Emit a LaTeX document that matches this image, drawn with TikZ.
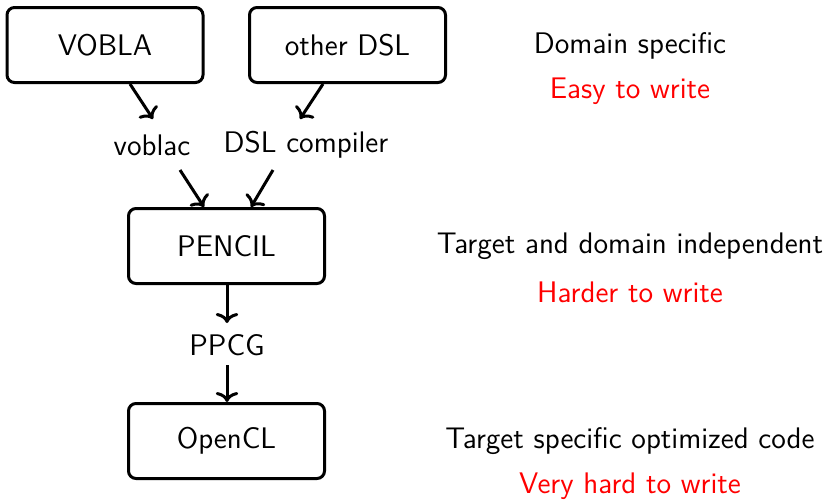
\documentclass[tikz,border=0pt]{standalone}
\usetikzlibrary{arrows.meta}
\begin{document}
\begin{tikzpicture}[x=0.4pt,y=-0.4pt,
  every node/.style={font=\sffamily\fontsize{11.9}{14}\selectfont, inner sep=0pt},
  box/.style={draw, line width=1.2pt, rounded corners=3pt, minimum width=196*0.4pt, minimum height=75*0.4pt},
  lbl/.style={},
  note/.style={},
  hard/.style={text=red},
  conn/.style={line width=1.2pt, -{To[length=4pt,width=9pt]}}]
\useasboundingbox (0,0) rectangle (826,500);
\node[box] (vobla) at (105,45) {VOBLA};
\node[box] (other) at (347.5,45) {other DSL};
\node[lbl] (voblac) at (152,145) {voblac};
\node[lbl] (dslc) at (306,145) {DSL compiler};
\node[box] (pencil) at (226.5,246) {PENCIL};
\node[lbl] (ppcg) at (227,345) {PPCG};
\node[box] (opencl) at (226.5,441) {OpenCL};
\coordinate (a1) at (130,84); \coordinate (a2) at (153,119);
\coordinate (b1) at (323,84); \coordinate (b2) at (300,119);
\coordinate (c1) at (180,170); \coordinate (c2) at (204,207);
\coordinate (d1) at (273,170); \coordinate (d2) at (251,207);
\coordinate (p1) at (227,323); \coordinate (p2) at (227,365);
\draw[conn] (a1) -- (a2);
\draw[conn] (b1) -- (b2);
\draw[conn] (c1) -- (c2);
\draw[conn] (d1) -- (d2);
\draw[conn] (pencil.south -| ppcg) -- (p1);
\draw[conn] (p2) -- (opencl.north -| ppcg);
\node[note] (n1) at (630,46) {Domain specific};
\node[note,hard] (h1) at (630,91) {Easy to write};
\node[note] (n2) at (630,246) {Target and domain independent};
\node[note,hard] (h2) at (630,292) {Harder to write};
\node[note] (n3) at (630,441) {Target specific optimized code};
\node[note,hard] (h3) at (630,486) {Very hard to write};
\end{tikzpicture}
\end{document}
